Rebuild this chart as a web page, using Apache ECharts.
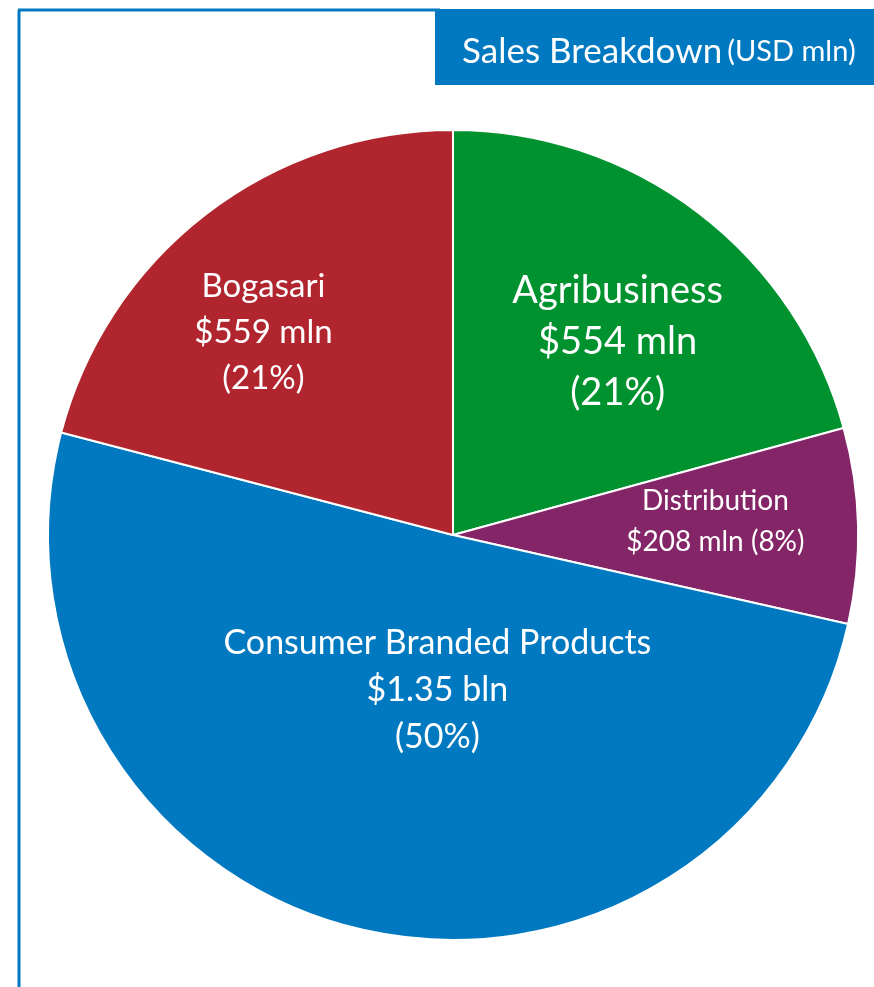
<!DOCTYPE html>
<html>
<head>
<meta charset="utf-8">
<script src="https://cdn.jsdelivr.net/npm/echarts@6/dist/echarts.min.js"></script>
<style>
  html, body { margin: 0; padding: 0; background: #fff; }
  #main { width: 874px; height: 987px; }
</style>
</head>
<body>
<div id="main"></div>
<script>
var segments = ['Agribusiness', 'Distribution', 'Consumer Branded Products', 'Bogasari'];
var values = [554, 208, 1350, 559];
var valueText = ['$554 mln', '$208 mln', '$1.35 bln', '$559 mln'];
var percentText = ['21%', '8%', '50%', '21%'];
var colors = ['#00922f', '#842567', '#0079c1', '#b1262e'];

// per-slice label tweaks (font size, line height, shift from the default inside spot)
var labelSize = [38, 28, 34, 33];
var labelLine = [51, 41, 47, 46];
var labelShift = [[40, -30], [57, -9], [33, -45], [-64, -40]];

var myChart = echarts.init(document.getElementById('main'));

var pieData = segments.map(function (name, i) {
  var oneLine = i === 1;
  return {
    name: name,
    value: values[i],
    itemStyle: { color: colors[i] },
    label: {
      fontSize: labelSize[i],
      lineHeight: labelLine[i],
      formatter: oneLine
        ? name + '\n' + valueText[i] + ' (' + percentText[i] + ')'
        : name + '\n' + valueText[i] + '\n(' + percentText[i] + ')'
    }
  };
});

var option = {
  animation: false,
  title: {
    text: '{a|Sales Breakdown} {b|(USD mln)}',
    left: 462,
    top: 30,
    padding: 0,
    textStyle: {
      rich: {
        a: { fontFamily: 'Lato', fontSize: 35, fontWeight: 'normal', color: '#fff', lineHeight: 44 },
        b: { fontFamily: 'Lato', fontSize: 29, fontWeight: 'normal', color: '#fff', lineHeight: 44 }
      }
    }
  },
  graphic: [
    {
      type: 'line',
      shape: { x1: 19, y1: 10, x2: 19, y2: 987 },
      style: { stroke: '#0079c1', lineWidth: 3 },
      z: 0
    },
    {
      type: 'line',
      shape: { x1: 18, y1: 10, x2: 440, y2: 10 },
      style: { stroke: '#0079c1', lineWidth: 3 },
      z: 0
    },
    {
      type: 'rect',
      shape: { x: 435, y: 9, width: 439, height: 76 },
      style: { fill: '#0079c1' },
      z: 0
    }
  ],
  series: [
    {
      type: 'pie',
      center: [453, 535],
      radius: 405,
      startAngle: 90,
      clockwise: true,
      itemStyle: { borderColor: '#fff', borderWidth: 2 },
      label: {
        show: true,
        position: 'inside',
        color: '#fff',
        fontFamily: 'Lato',
        align: 'center'
      },
      labelLine: { show: false },
      emphasis: { disabled: true },
      labelLayout: function (params) {
        var s = labelShift[params.dataIndex];
        return { dx: s[0], dy: s[1] };
      },
      data: pieData
    }
  ]
};

myChart.setOption(option);
</script>
</body>
</html>
